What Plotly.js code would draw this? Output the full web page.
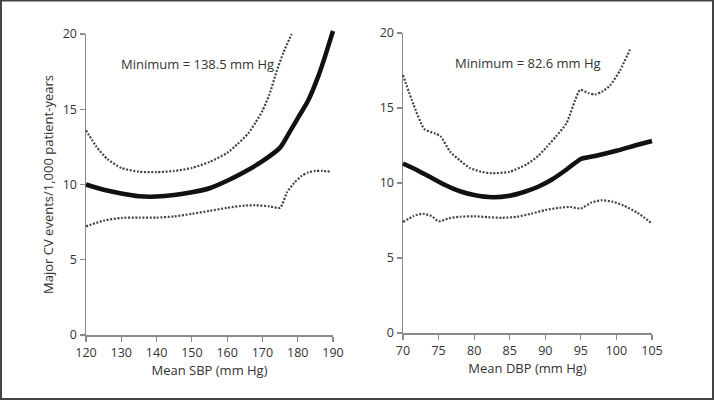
<!DOCTYPE html>
<html><head><meta charset="utf-8">
<script src="https://cdn.plot.ly/plotly-3.0.1.min.js"></script>
<style>html,body{margin:0;padding:0;background:#fff}#chart{width:714px;height:400px}</style>
</head><body><div id="chart"></div>
<script>
// ---- Data: systolic panel ----
const sbpX      = [120, 125, 130, 135, 140, 145, 150, 155, 160, 165, 170, 175, 177, 180, 183, 186, 188, 190];
const sbpMain   = [10.0, 9.65, 9.4, 9.22, 9.2, 9.3, 9.48, 9.75, 10.25, 10.85, 11.55, 12.45, 13.2, 14.4, 15.6, 17.3, 18.7, 20.2];
const sbpUpperX = [120, 123, 126, 130, 135, 140, 145, 150, 155, 160, 163, 166, 168, 170, 172, 174, 176, 178.3];
const sbpUpper  = [13.6, 12.5, 11.7, 11.1, 10.85, 10.82, 10.9, 11.1, 11.5, 12.1, 12.7, 13.4, 14.1, 14.9, 16.0, 17.5, 18.8, 20.0];
const sbpLowerX = [120, 125, 130, 135, 140, 145, 150, 155, 160, 165, 168, 172, 175, 177, 179, 181, 183, 185, 187, 189.6];
const sbpLower  = [7.22, 7.6, 7.78, 7.8, 7.8, 7.88, 8.05, 8.25, 8.45, 8.6, 8.62, 8.55, 8.45, 9.5, 10.1, 10.55, 10.8, 10.9, 10.9, 10.85];

// ---- Data: diastolic panel ----
const dbpX      = [70, 72, 74, 76, 78, 80, 82.6, 85, 87, 89, 91, 93, 95, 97, 100, 103, 105];
const dbpMain   = [11.3, 10.85, 10.35, 9.85, 9.45, 9.2, 9.05, 9.15, 9.4, 9.75, 10.25, 10.9, 11.6, 11.8, 12.15, 12.55, 12.8];
const dbpUpperX = [70, 71.5, 73, 74.5, 75.3, 76.6, 78, 79.4, 81, 82.5, 85, 87.4, 89, 90.2, 91.5, 93, 94.9, 96, 97, 98, 99.1, 100.5, 101.9];
const dbpUpper  = [17.2, 15.2, 13.6, 13.3, 13.1, 12.1, 11.5, 11.0, 10.75, 10.65, 10.75, 11.25, 11.8, 12.4, 13.1, 14.0, 16.2, 16.0, 15.9, 16.1, 16.5, 17.5, 18.9];
const dbpLowerX = [70, 71.5, 72.8, 74, 75, 76.5, 78, 80, 82, 84, 86, 88, 90, 92, 93.5, 95, 96.5, 98, 99.5, 101, 103, 105];
const dbpLower  = [7.4, 7.8, 7.95, 7.8, 7.45, 7.65, 7.75, 7.78, 7.72, 7.68, 7.75, 7.95, 8.2, 8.35, 8.4, 8.3, 8.7, 8.85, 8.75, 8.5, 8.0, 7.3];

const sbpTicks = [120, 130, 140, 150, 160, 170, 180, 190];
const dbpTicks = [70, 75, 80, 85, 90, 95, 100, 105];
const yTicks   = [0, 5, 10, 15, 20];
const annLeft  = 'Minimum = 138.5 mm Hg';
const annRight = 'Minimum = 82.6 mm Hg';
const yTitle   = 'Major CV events/1,000 patient-years';
const xTitleL  = 'Mean SBP (mm Hg)';
const xTitleR  = 'Mean DBP (mm Hg)';

// ---- geometry helpers (pixel placement of the axes) ----
const W = 714, H = 400;
const px = p => p / W, py = p => 1 - p / H;
const L = {x0: 86, x1: 333, yb: 335, yt: 34, r: [120, 190]};
const R = {x0: 403, x1: 652, yb: 333, yt: 33, r: [70, 105]};
const yr = [0, 20];
// hidden, slightly larger data frame so the curves are not clipped at the edges
function ext(f, padX, padY) {
  const sx = (f.x1 - f.x0) / (f.r[1] - f.r[0]);
  const sy = (f.yb - f.yt) / (yr[1] - yr[0]);
  return {
    xd: [px(f.x0 - padX * sx), px(f.x1 + padX * sx)],
    yd: [py(f.yb + padY * sy), py(f.yt - padY * sy)],
    xr: [f.r[0] - padX, f.r[1] + padX],
    yr: [yr[0] - padY, yr[1] + padY]
  };
}
const eL = ext(L, 2, 0.8), eR = ext(R, 1, 0.8);

const font = {family: '"Open Sans", "Noto Sans", sans-serif', size: 12.5, color: '#333'};
const axisVis = (dom, range, ticks, anchor, title) => ({
  domain: dom, range: range, tickvals: ticks, ticktext: ticks.map(String),
  showline: true, linecolor: '#8a8a8a', linewidth: 1.5, ticks: 'outside', ticklen: 5,
  tickcolor: '#8a8a8a', tickwidth: 1.2, showgrid: false, zeroline: false, anchor: anchor,
  tickfont: font, fixedrange: true,
  title: title ? {text: title, font: {family: font.family, size: 13, color: '#333'}, standoff: 6} : undefined
});
const axisHid = (dom, range, anchor) => ({
  domain: dom, range: range, visible: false, showgrid: false, zeroline: false, anchor: anchor, fixedrange: true
});

const thick = {color: '#111', width: 4.5, shape: 'spline', smoothing: 0.6};
const dotted = {color: '#444', width: 2.2, dash: '2px,1.6px', shape: 'spline', smoothing: 0.6};
const tr = (x, y, line, xa, ya) => ({x, y, type: 'scatter', mode: 'lines', line, xaxis: xa, yaxis: ya, hoverinfo: 'skip', showlegend: false});

const data = [
  tr(sbpUpperX, sbpUpper, dotted, 'x3', 'y3'),
  tr(sbpLowerX, sbpLower, dotted, 'x3', 'y3'),
  tr(sbpX, sbpMain, thick, 'x3', 'y3'),
  tr(dbpUpperX, dbpUpper, dotted, 'x4', 'y4'),
  tr(dbpLowerX, dbpLower, dotted, 'x4', 'y4'),
  tr(dbpX, dbpMain, thick, 'x4', 'y4'),
  {x: [], y: [], type: 'scatter', xaxis: 'x', yaxis: 'y', showlegend: false},
  {x: [], y: [], type: 'scatter', xaxis: 'x2', yaxis: 'y2', showlegend: false}
];

const layout = {
  width: W, height: H, margin: {l: 0, r: 0, t: 0, b: 0},
  paper_bgcolor: '#fff', plot_bgcolor: 'rgba(0,0,0,0)', showlegend: false,
  font: font,
  xaxis:  axisVis([px(L.x0), px(L.x1)], L.r, sbpTicks, 'y', xTitleL),
  yaxis:  axisVis([py(L.yb), py(L.yt)], yr, yTicks, 'x', yTitle),
  xaxis2: axisVis([px(R.x0), px(R.x1)], R.r, dbpTicks, 'y2', xTitleR),
  yaxis2: axisVis([py(R.yb), py(R.yt)], yr, yTicks, 'x2', null),
  xaxis3: axisHid(eL.xd, eL.xr, 'y3'),
  yaxis3: axisHid(eL.yd, eL.yr, 'x3'),
  xaxis4: axisHid(eR.xd, eR.xr, 'y4'),
  yaxis4: axisHid(eR.yd, eR.yr, 'x4'),
  annotations: [
    {text: annLeft, x: 151.7, y: 18.0, xref: 'x', yref: 'y', showarrow: false, font: {family: font.family, size: 13, color: '#333'}},
    {text: annRight, x: 87.6, y: 18.0, xref: 'x2', yref: 'y2', showarrow: false, font: {family: font.family, size: 13, color: '#333'}}
  ],
  shapes: [
    {type: 'rect', xref: 'paper', yref: 'paper', x0: px(1), x1: px(W - 1), y0: py(H - 1), y1: py(0.5),
     line: {color: '#444', width: 2}, fillcolor: 'rgba(0,0,0,0)'}
  ]
};

Plotly.newPlot('chart', data, layout, {staticPlot: true, displayModeBar: false});
</script>
</body></html>
